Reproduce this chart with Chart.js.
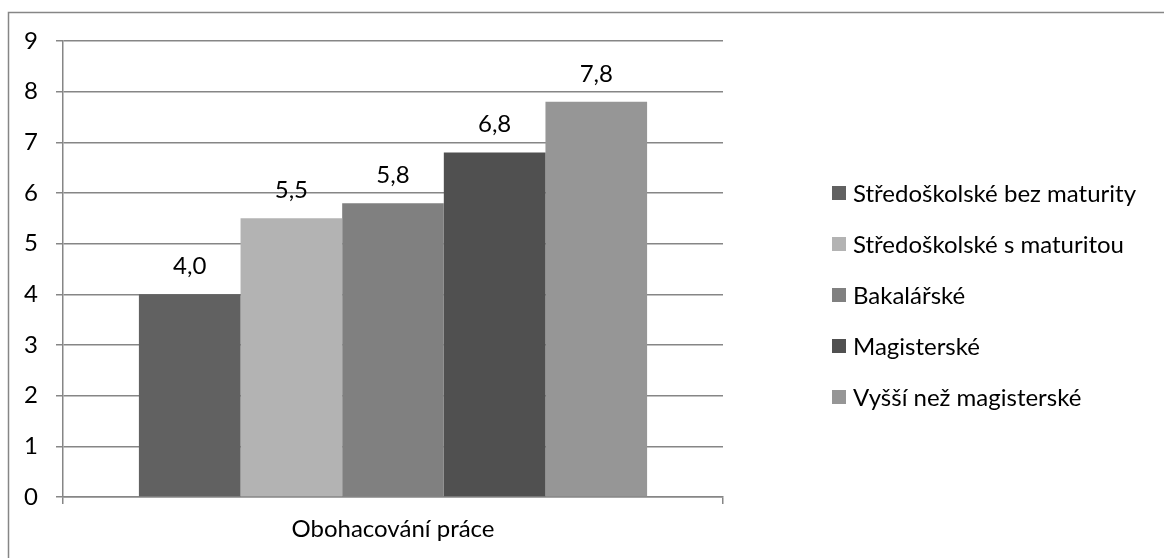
<!DOCTYPE html>
<html>
<head>
<meta charset="utf-8">
<title>Obohacování práce</title>
<script src="https://cdn.jsdelivr.net/npm/chart.js@4.4.0/dist/chart.umd.min.js"></script>
<style>
  html, body { margin: 0; padding: 0; background: #fff; }
  #chart { display: block; }
</style>
</head>
<body>
<canvas id="chart" width="1164" height="558"></canvas>
<script>
// data
const categories = ['Obohacování práce'];
const seriesNames = [
    'Středoškolské bez maturity',
    'Středoškolské s maturitou',
    'Bakalářské',
    'Magisterské',
    'Vyšší než magisterské'
];
const seriesValues = [4.0, 5.5, 5.8, 6.8, 7.8];
const yTicks = [0, 1, 2, 3, 4, 5, 6, 7, 8, 9];

// look
const seriesColors = ['#616161', '#b3b3b3', '#808080', '#505050', '#969696'];
const lineGray = '#868686';
const fontFamily = 'Lato, "Open Sans", sans-serif';
const fontSize = 24;

const fmt = v => v.toFixed(1).replace('.', ',');

// outer frame of the chart object
const framePlugin = {
    id: 'frame',
    beforeDraw(chart) {
        const ctx = chart.ctx;
        ctx.save();
        ctx.fillStyle = '#fff';
        ctx.fillRect(0, 0, chart.width, chart.height);
        ctx.strokeStyle = lineGray;
        ctx.lineWidth = 1.5;
        ctx.strokeRect(8.5, 12.5, chart.width + 20, chart.height + 20);
        ctx.restore();
    }
};

// value labels above each bar
const valueLabels = {
    id: 'valueLabels',
    afterDatasetsDraw(chart) {
        const ctx = chart.ctx;
        ctx.save();
        ctx.font = fontSize + 'px ' + fontFamily;
        ctx.fillStyle = '#000';
        ctx.textAlign = 'center';
        ctx.textBaseline = 'middle';
        chart.data.datasets.forEach((ds, i) => {
            chart.getDatasetMeta(i).data.forEach((bar, j) => {
                ctx.fillText(fmt(ds.data[j]), bar.x, bar.y - 28);
            });
        });
        ctx.restore();
    }
};

// legend on the right, one row per series
const sideLegend = {
    id: 'sideLegend',
    afterDraw(chart) {
        const ctx = chart.ctx;
        const area = chart.chartArea;
        const boxX = area.right + 109;
        const rowH = 51;
        const n = chart.data.datasets.length;
        const startY = 295 - rowH * (n - 1) / 2;
        ctx.save();
        ctx.font = fontSize + 'px ' + fontFamily;
        ctx.textBaseline = 'middle';
        ctx.textAlign = 'left';
        chart.data.datasets.forEach((ds, i) => {
            const y = startY + i * rowH;
            ctx.fillStyle = ds.backgroundColor;
            ctx.fillRect(boxX, y - 7, 14, 14);
            ctx.fillStyle = '#000';
            ctx.fillText(ds.label, boxX + 21, y + 1);
        });
        ctx.restore();
    }
};

new Chart(document.getElementById('chart'), {
    type: 'bar',
    data: {
        labels: categories,
        datasets: seriesNames.map((name, i) => ({
            label: name,
            data: [seriesValues[i]],
            backgroundColor: seriesColors[i],
            borderWidth: 0,
            barPercentage: 1,
            categoryPercentage: 0.77
        }))
    },
    options: {
        responsive: false,
        animation: false,
        devicePixelRatio: 1,
        layout: { padding: { left: 0, top: 41, right: 441, bottom: 0 } },
        plugins: {
            legend: { display: false },
            tooltip: { enabled: false }
        },
        scales: {
            x: {
                grid: {
                    offset: true,
                    drawOnChartArea: false,
                    drawTicks: true,
                    tickLength: 7,
                    color: lineGray,
                    lineWidth: 1.5
                },
                border: { color: lineGray, width: 1.5 },
                ticks: {
                    color: '#000',
                    padding: 11,
                    font: { family: fontFamily, size: fontSize }
                },
                afterFit(scale) { scale.height = 61; }
            },
            y: {
                min: yTicks[0],
                max: yTicks[yTicks.length - 1],
                afterBuildTicks(scale) {
                    scale.ticks = yTicks.map(v => ({ value: v }));
                },
                grid: {
                    color: lineGray,
                    lineWidth: 1.5,
                    tickLength: 7
                },
                border: { color: lineGray, width: 1.5 },
                ticks: {
                    color: '#000',
                    padding: 18,
                    font: { family: fontFamily, size: fontSize }
                },
                afterFit(scale) { scale.width = 63; }
            }
        }
    },
    plugins: [framePlugin, valueLabels, sideLegend]
});
</script>
</body>
</html>
